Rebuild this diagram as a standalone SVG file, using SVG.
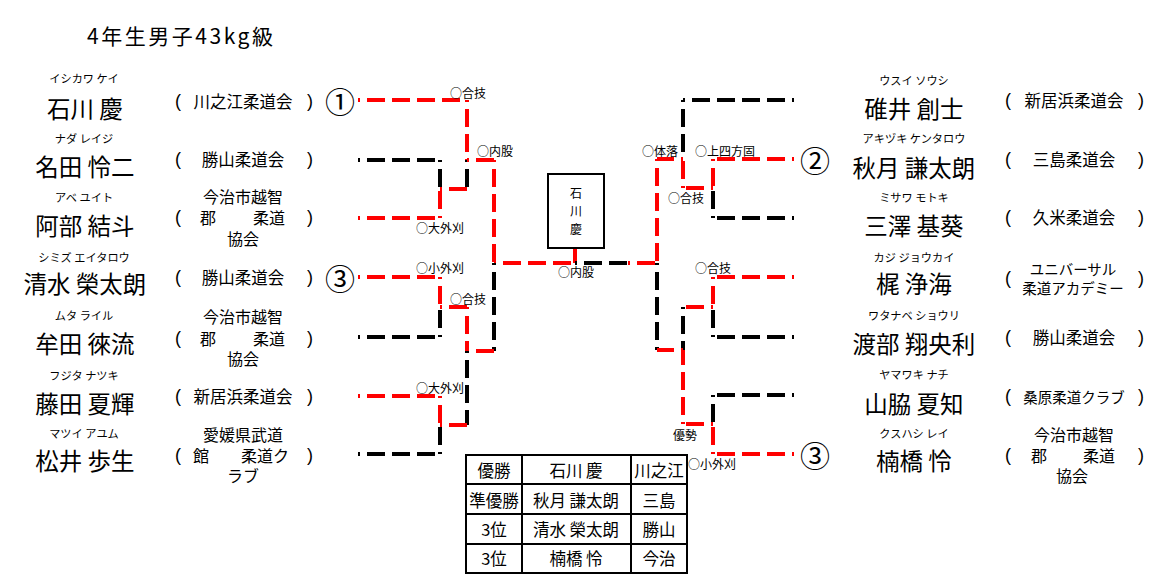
<svg xmlns="http://www.w3.org/2000/svg" width="1158" height="586" viewBox="0 0 1158 586">
<style>
text{font-family:"Noto Sans CJK JP","Noto Sans CJK SC",sans-serif;fill:#000;dominant-baseline:central}
.ttl{font-size:21px}
.name{font-size:23.5px;text-anchor:middle}
.kana{font-size:11.2px;text-anchor:middle}
.aff{font-size:16.5px;text-anchor:middle}
.m{font-size:16px}
.aff2{font-size:14.5px;text-anchor:middle}
.p{font-family:"Liberation Sans",sans-serif;font-size:18px;text-anchor:middle}
.lbl{font-size:12px}
.num{font-size:30px;text-anchor:middle}
.tb{font-size:16.5px;text-anchor:middle}
.c path{fill:none;stroke-width:4;stroke-dasharray:18 7;stroke-dashoffset:16}
.c .r{stroke:#ff0000}
.c .k{stroke:#000}
.box{fill:#fff;stroke:#000;stroke-width:2}
.grid{stroke:#000;stroke-width:2;fill:none}
</style>
<rect width="1158" height="586" fill="#fff"/>
<text class="ttl" x="87" y="35" textLength="186" lengthAdjust="spacing">4年生男子43kg級</text>

<g id="connectors" class="c">
  <path class="r" d="M358,100 H467"/>
  <path class="r" d="M467,100 V160"/>
  <path class="k" d="M467,160 V189"/>
  <path class="k" d="M358,160 H440"/>
  <path class="k" d="M440,160 V189"/>
  <path class="r" d="M358,218 H440"/>
  <path class="r" d="M440,218 V189"/>
  <path class="r" d="M440,189 H467"/>
  <path class="r" d="M467,160 H494"/>
  <path class="r" d="M494,160 V263"/>
  <path class="r" d="M494,263 H575"/>
  <path class="k" d="M494,263 V351"/>
  <path class="r" d="M358,277 H440"/>
  <path class="r" d="M440,277 V307"/>
  <path class="r" d="M440,307 H467"/>
  <path class="r" d="M467,307 V351"/>
  <path class="r" d="M467,351 H494"/>
  <path class="k" d="M358,337 H440"/>
  <path class="k" d="M440,337 V307"/>
  <path class="k" d="M467,351 V425"/>
  <path class="r" d="M358,396 H440"/>
  <path class="r" d="M440,396 V425"/>
  <path class="r" d="M440,425 H467"/>
  <path class="k" d="M358,454 H440"/>
  <path class="k" d="M440,454 V425"/>
  <path class="r" d="M575,248 V263" style="stroke-dasharray:none"/>
  <path class="k" d="M575,263 H628"/>
  <path class="r" d="M628,263 H657"/>
  <path class="k" d="M794,100 H683"/>
  <path class="k" d="M683,100 V159"/>
  <path class="r" d="M794,159 H713"/>
  <path class="r" d="M713,159 V188"/>
  <path class="r" d="M713,188 H683"/>
  <path class="r" d="M683,188 V159"/>
  <path class="r" d="M683,159 H657"/>
  <path class="r" d="M657,159 V263"/>
  <path class="k" d="M794,218 H713"/>
  <path class="k" d="M713,218 V188"/>
  <path class="k" d="M657,263 V350"/>
  <path class="r" d="M794,277 H713"/>
  <path class="r" d="M713,277 V307"/>
  <path class="r" d="M713,307 H683"/>
  <path class="k" d="M794,337 H713"/>
  <path class="k" d="M713,337 V307"/>
  <path class="k" d="M683,307 V350"/>
  <path class="r" d="M683,350 H657"/>
  <path class="r" d="M683,424 V350"/>
  <path class="r" d="M713,424 H683"/>
  <path class="r" d="M713,454 V424"/>
  <path class="r" d="M794,454 H713"/>
  <path class="k" d="M794,395 H713"/>
  <path class="k" d="M713,395 V424"/>
</g>

<g id="labels">
  <text class="lbl" x="450" y="92">○合技</text>
  <text class="lbl" x="477" y="150">○内股</text>
  <text class="lbl" x="416" y="227">○大外刈</text>
  <text class="lbl" x="416" y="267">○小外刈</text>
  <text class="lbl" x="450" y="298">○合技</text>
  <text class="lbl" x="416" y="387">○大外刈</text>
  <text class="lbl" x="558" y="271">○内股</text>
  <text class="lbl" x="642" y="150">○体落</text>
  <text class="lbl" x="695" y="150">○上四方固</text>
  <text class="lbl" x="668" y="197">○合技</text>
  <text class="lbl" x="695" y="267">○合技</text>
  <text class="lbl" x="673" y="434">優勢</text>
  <text class="lbl" x="688" y="463">○小外刈</text>
</g>

<g id="winner-box">
  <rect class="box" x="548" y="174" width="56" height="74"/>
  <text class="lbl" x="576" y="192" text-anchor="middle">石</text>
  <text class="lbl" x="576" y="210" text-anchor="middle">川</text>
  <text class="lbl" x="576" y="228" text-anchor="middle">慶</text>
</g>

<g id="seeds">
  <text class="num" x="340" y="100">①</text>
  <text class="num" x="340" y="277">③</text>
  <text class="num" x="815" y="159">②</text>
  <text class="num" x="815" y="454">③</text>
</g>

<g id="p-ishikawa">
  <text class="kana" x="84" y="78">イシカワ ケイ</text>
  <text class="name" x="85" y="108">石川 慶</text>
  <text class="p" x="178" y="101">(</text><text class="p" x="310" y="101">)</text>
  <text class="aff" x="243" y="101">川之江柔道会</text>
</g>
<g id="p-nada">
  <text class="kana" x="84" y="138">ナダ レイジ</text>
  <text class="name" x="85" y="166">名田 怜二</text>
  <text class="p" x="178" y="159">(</text><text class="p" x="310" y="159">)</text>
  <text class="aff" x="243" y="159">勝山柔道会</text>
</g>
<g id="p-abe">
  <text class="kana" x="84" y="197">アベ ユイト</text>
  <text class="name" x="85" y="225">阿部 結斗</text>
  <text class="p" x="178" y="217">(</text><text class="p" x="310" y="217">)</text>
  <text class="aff m" x="243" y="196">今治市越智</text>
  <text class="aff m" x="208" y="217">郡</text>
  <text class="aff m" x="269" y="217">柔道</text>
  <text class="aff m" x="243" y="238">協会</text>
</g>
<g id="p-shimizu">
  <text class="kana" x="84" y="257">シミズ エイタロウ</text>
  <text class="name" x="85" y="283">清水 榮太朗</text>
  <text class="p" x="178" y="277">(</text><text class="p" x="310" y="277">)</text>
  <text class="aff" x="243" y="277">勝山柔道会</text>
</g>
<g id="p-muta">
  <text class="kana" x="84" y="315">ムタ ライル</text>
  <text class="name" x="85" y="343">牟田 徠流</text>
  <text class="p" x="178" y="338">(</text><text class="p" x="310" y="338">)</text>
  <text class="aff m" x="243" y="316">今治市越智</text>
  <text class="aff m" x="208" y="338">郡</text>
  <text class="aff m" x="269" y="338">柔道</text>
  <text class="aff m" x="243" y="358">協会</text>
</g>
<g id="p-fujita">
  <text class="kana" x="84" y="375">フジタ ナツキ</text>
  <text class="name" x="85" y="403">藤田 夏輝</text>
  <text class="p" x="178" y="396">(</text><text class="p" x="310" y="396">)</text>
  <text class="aff" x="243" y="396">新居浜柔道会</text>
</g>
<g id="p-matsui">
  <text class="kana" x="84" y="433">マツイ アユム</text>
  <text class="name" x="85" y="460">松井 歩生</text>
  <text class="p" x="178" y="455">(</text><text class="p" x="310" y="455">)</text>
  <text class="aff m" x="243" y="434">愛媛県武道</text>
  <text class="aff m" x="201" y="455">館</text>
  <text class="aff m" x="265" y="455">柔道ク</text>
  <text class="aff m" x="243" y="475">ラブ</text>
</g>

<g id="p-usui">
  <text class="kana" x="914" y="80">ウスイ ソウシ</text>
  <text class="name" x="914" y="108">碓井 創士</text>
  <text class="p" x="1008" y="100">(</text><text class="p" x="1141" y="100">)</text>
  <text class="aff" x="1074" y="100">新居浜柔道会</text>
</g>
<g id="p-akizuki">
  <text class="kana" x="914" y="138">アキヅキ ケンタロウ</text>
  <text class="name" x="914" y="167">秋月 謙太朗</text>
  <text class="p" x="1008" y="159">(</text><text class="p" x="1141" y="159">)</text>
  <text class="aff" x="1074" y="159">三島柔道会</text>
</g>
<g id="p-misawa">
  <text class="kana" x="914" y="197">ミサワ モトキ</text>
  <text class="name" x="914" y="225">三澤 基葵</text>
  <text class="p" x="1008" y="217">(</text><text class="p" x="1141" y="217">)</text>
  <text class="aff" x="1074" y="217">久米柔道会</text>
</g>
<g id="p-kaji">
  <text class="kana" x="914" y="257">カジ ジョウカイ</text>
  <text class="name" x="914" y="283">梶 浄海</text>
  <text class="p" x="1008" y="278">(</text><text class="p" x="1141" y="278">)</text>
  <text class="aff2" x="1073" y="268">ユニバーサル</text>
  <text class="aff2" x="1073" y="287" font-size="14">柔道アカデミー</text>
</g>
<g id="p-watanabe">
  <text class="kana" x="914" y="315">ワタナベ ショウリ</text>
  <text class="name" x="914" y="343">渡部 翔央利</text>
  <text class="p" x="1008" y="337">(</text><text class="p" x="1141" y="337">)</text>
  <text class="aff" x="1074" y="337">勝山柔道会</text>
</g>
<g id="p-yamawaki">
  <text class="kana" x="914" y="374">ヤマワキ ナチ</text>
  <text class="name" x="914" y="403">山脇 夏知</text>
  <text class="p" x="1008" y="396">(</text><text class="p" x="1141" y="396">)</text>
  <text class="aff2" x="1074" y="396">桑原柔道クラブ</text>
</g>
<g id="p-kusuhashi">
  <text class="kana" x="914" y="433">クスハシ レイ</text>
  <text class="name" x="914" y="460">楠橋 怜</text>
  <text class="p" x="1008" y="455">(</text><text class="p" x="1141" y="455">)</text>
  <text class="aff m" x="1074" y="434">今治市越智</text>
  <text class="aff m" x="1039" y="455">郡</text>
  <text class="aff m" x="1099" y="455">柔道</text>
  <text class="aff m" x="1072" y="475">協会</text>
</g>

<g id="results">
  <rect class="grid" x="466" y="455" width="221" height="118"/>
  <path class="grid" d="M522,455 V573 M631,455 V573 M466,484 H687 M466,514 H687 M466,544 H687"/>
  <text class="tb" x="494" y="470">優勝</text>
  <text class="tb" x="576" y="470">石川 慶</text>
  <text class="tb" x="659" y="470">川之江</text>
  <text class="tb" x="494" y="500">準優勝</text>
  <text class="tb" x="576" y="500">秋月 謙太朗</text>
  <text class="tb" x="659" y="500">三島</text>
  <text class="tb" x="494" y="529">3位</text>
  <text class="tb" x="576" y="529">清水 榮太朗</text>
  <text class="tb" x="659" y="529">勝山</text>
  <text class="tb" x="494" y="558">3位</text>
  <text class="tb" x="576" y="558">楠橋 怜</text>
  <text class="tb" x="659" y="558">今治</text>
</g>
</svg>
